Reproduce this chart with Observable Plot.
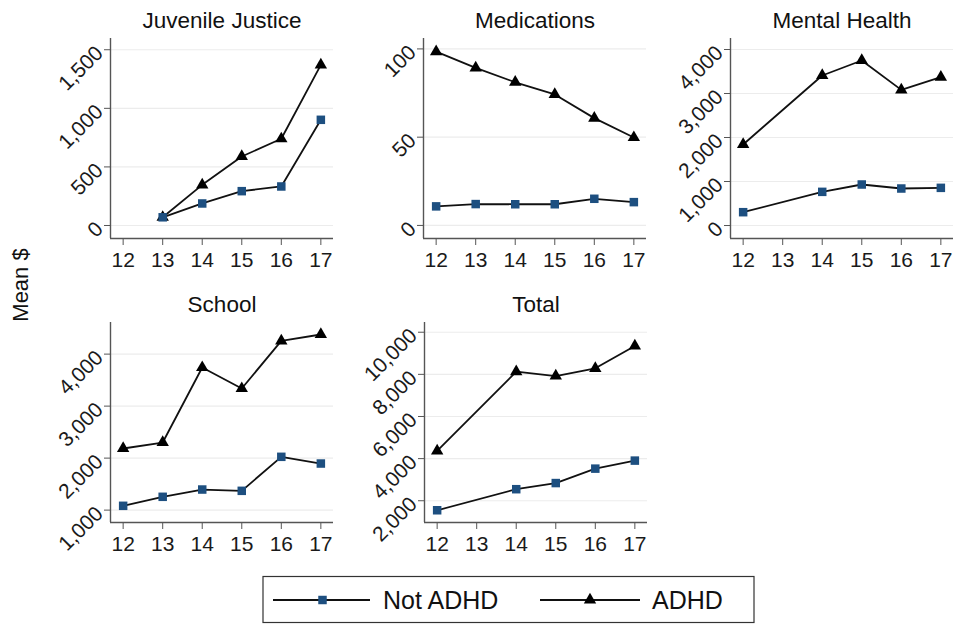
<!DOCTYPE html>
<html>
<head>
<meta charset="utf-8">
<script src="https://cdn.jsdelivr.net/npm/d3@7"></script>
<script src="https://cdn.jsdelivr.net/npm/@observablehq/plot@0.6"></script>
<style>
  html, body { margin: 0; padding: 0; background: #fff; }
  #root { position: relative; width: 955px; height: 625px; overflow: hidden; font-family: "Liberation Sans", Arial, sans-serif; }
  .panel { position: absolute; }
  #overlay { position: absolute; left: 0; top: 0; }
</style>
</head>
<body>
<div id="root"></div>
<script>
// ---- data ----
const years = [12, 13, 14, 15, 16, 17];
const seriesNames = ["Not ADHD", "ADHD"];

const jjNot  = [null, 70, 188, 293, 333, 902];
const jjAdhd = [null, 70, 347, 589, 740, 1371];
const jjTicks = [0, 500, 1000, 1500];

const medNot  = [10.8, 12.1, 12.0, 12.0, 15.1, 13.2];
const medAdhd = [98.5, 89.3, 81.1, 74.2, 60.8, 49.8];
const medTicks = [0, 50, 100];

const mhNot  = [303, null, 765, 932, 841, 856];
const mhAdhd = [1841, null, 3409, 3750, 3083, 3371];
const mhTicks = [0, 1000, 2000, 3000, 4000];

const schNot  = [1083, 1256, 1396, 1371, 2025, 1896];
const schAdhd = [2185, 2300, 3742, 3338, 4256, 4377];
const schTicks = [1000, 2000, 3000, 4000];

const totNot  = [1548, null, 2548, 2839, 3524, 3905];
const totAdhd = [4365, null, 8127, 7921, 8286, 9349];
const totTicks = [2000, 4000, 6000, 8000, 10000];

const panelTitles = ["Juvenile Justice", "Medications", "Mental Health", "School", "Total"];
const yLabel = "Mean $";

// ---- build ----
const FONT = '"Liberation Sans", Arial, sans-serif';
const BLUE = "#1d4f80";
const root = document.getElementById("root");

function rows(vals) {
  return years.map((yr, i) => ({year: yr, value: vals[i]})).filter(d => d.value != null);
}

function panel({title, not, adhd, ticks, ydomain, left, top}) {
  const xdom = [11.68, 17.32];
  const a = rows(adhd), n = rows(not);
  const p = Plot.plot({
    width: 300, height: 280,
    marginLeft: 75, marginRight: 2, marginTop: 38, marginBottom: 42,
    style: {background: "transparent", fontFamily: FONT, fontSize: "21px", color: "#1a1a1a", overflow: "visible"},
    x: {domain: xdom, label: null},
    y: {domain: ydomain, label: null},
    marks: [
      Plot.ruleY(ticks, {stroke: "#ececec", strokeWidth: 1.2}),
      Plot.axisX({ticks: years, tickFormat: d => String(d), tickSize: 7, tickPadding: 7, label: null, stroke: "#555", fontSize: 21}),
      Plot.axisY({ticks, tickFormat: d3.format(","), tickSize: 6, tickPadding: 5, tickRotate: -45, label: null, stroke: "#555", fontSize: 21}),
      Plot.ruleX([xdom[0]], {stroke: "#555", strokeWidth: 1.4}),
      Plot.ruleY([ydomain[0]], {stroke: "#555", strokeWidth: 1.4}),
      Plot.line(a, {x: "year", y: "value", stroke: "#111", strokeWidth: 1.8}),
      Plot.line(n, {x: "year", y: "value", stroke: "#111", strokeWidth: 1.8}),
      Plot.dot(a, {x: "year", y: "value", symbol: "triangle", r: 4.6, fill: "#000", stroke: "none"}),
      Plot.dot(n, {x: "year", y: "value", symbol: "square", r: 4.8, fill: BLUE, stroke: "none"}),
      Plot.text([title], {frameAnchor: "top", dy: -11, lineAnchor: "bottom", fontSize: 22.5, fill: "#111"})
    ]
  });
  p.classList.add("panel");
  p.style.left = left + "px";
  p.style.top = top + "px";
  root.appendChild(p);
}

panel({title: panelTitles[0], not: jjNot, adhd: jjAdhd, ticks: jjTicks, ydomain: [-111, 1596], left: 35, top: 0});
panel({title: panelTitles[1], not: medNot, adhd: medAdhd, ticks: medTicks, ydomain: [-7.4, 105.9], left: 348, top: 0});
panel({title: panelTitles[2], not: mhNot, adhd: mhAdhd, ticks: mhTicks, ydomain: [-295, 4250], left: 655, top: 0});
panel({title: panelTitles[3], not: schNot, adhd: schAdhd, ticks: schTicks, ydomain: [762, 4608], left: 35, top: 284});
panel({title: panelTitles[4], not: totNot, adhd: totAdhd, ticks: totTicks, ydomain: [967, 10462], left: 349, top: 284});

// ---- overlay: y label and legend ----
const svg = d3.select(root).append("svg").attr("id", "overlay")
  .attr("width", 955).attr("height", 625).style("pointer-events", "none")
  .style("font-family", FONT);

svg.append("text")
  .attr("transform", "translate(28,285) rotate(-90)")
  .attr("text-anchor", "middle")
  .attr("font-size", 22)
  .attr("fill", "#111")
  .text(yLabel);

const lg = svg.append("g");
lg.append("rect").attr("x", 263).attr("y", 576.5).attr("width", 491).attr("height", 46)
  .attr("fill", "#fff").attr("stroke", "#333").attr("stroke-width", 1.2);
const ly = 600;
// Not ADHD
lg.append("line").attr("x1", 273).attr("x2", 370).attr("y1", ly).attr("y2", ly).attr("stroke", "#111").attr("stroke-width", 1.8);
lg.append("path").attr("d", d3.symbol(d3.symbolSquare, 72)()).attr("transform", `translate(322.5,${ly})`).attr("fill", BLUE);
lg.append("text").attr("x", 383).attr("y", ly + 9).attr("font-size", 25).attr("fill", "#111").text(seriesNames[0]);
// ADHD
lg.append("line").attr("x1", 540).attr("x2", 640).attr("y1", ly).attr("y2", ly).attr("stroke", "#111").attr("stroke-width", 1.8);
lg.append("path").attr("d", d3.symbol(d3.symbolTriangle, 66)()).attr("transform", `translate(590,${ly})`).attr("fill", "#000");
lg.append("text").attr("x", 652).attr("y", ly + 9).attr("font-size", 25).attr("fill", "#111").text(seriesNames[1]);
</script>
</body>
</html>
